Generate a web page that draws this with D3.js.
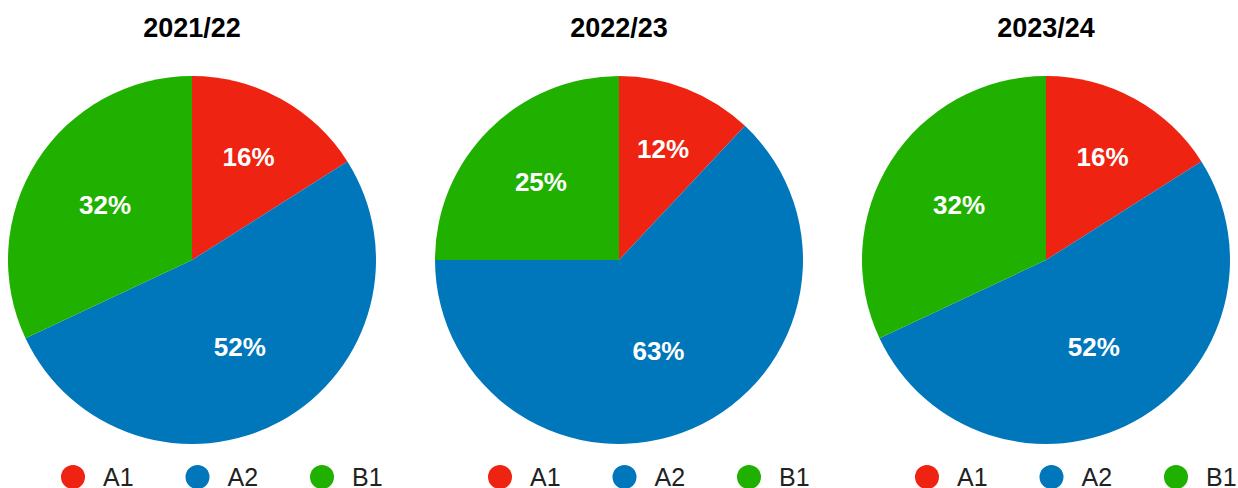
<!DOCTYPE html>
<html>
<head>
<meta charset="utf-8">
<script src="https://cdn.jsdelivr.net/npm/d3@7"></script>
<style>
  body { margin: 0; background: #fff; }
  svg { display: block; font-family: "Liberation Sans", Arial, Helvetica, sans-serif; }
</style>
</head>
<body>
<script>
// Data
const categories = ['A1', 'A2', 'B1'];
const years = ['2021/22', '2022/23', '2023/24'];
const values2122 = [16, 52, 32];
const values2223 = [12, 63, 25];
const values2324 = [16, 52, 32];
const seriesValues = [values2122, values2223, values2324];
const colors = ['#ee2311', '#0077bb', '#1fb000'];

const width = 1238, height = 488;
const radius = 184;
const centersX = [192, 619, 1046];
const centerY = 260;

const svg = d3.select('body')
    .append('svg')
    .attr('width', width)
    .attr('height', height);

const color = d3.scaleOrdinal().domain(categories).range(colors);
const pie = d3.pie().sort(null).value(d => d.value);
const arc = d3.arc().innerRadius(0).outerRadius(radius);

years.forEach((year, i) => {
    const data = categories.map((c, j) => ({ cat: c, value: seriesValues[i][j] }));
    const total = d3.sum(data, d => d.value);

    const g = svg.append('g')
        .attr('transform', `translate(${centersX[i]}, ${centerY})`);

    // title
    g.append('text')
        .attr('x', 0)
        .attr('y', 37 - centerY)
        .attr('text-anchor', 'middle')
        .attr('font-size', 27)
        .attr('font-weight', 'bold')
        .attr('fill', '#000')
        .text(year);

    const arcs = pie(data);

    g.selectAll('.slice')
        .data(arcs)
        .enter()
        .append('path')
        .attr('class', 'slice')
        .attr('d', arc)
        .attr('fill', d => color(d.data.cat));

    // labels sit at the sector centroid, but never closer than ~0.54r
    g.selectAll('.label')
        .data(arcs)
        .enter()
        .append('text')
        .attr('class', 'label')
        .attr('transform', d => {
            const half = (d.endAngle - d.startAngle) / 2;
            const mid = d.startAngle + half;
            const cd = 2 * radius * Math.sin(half) / (3 * half);
            const dist = Math.max(cd, radius * 0.54);
            return `translate(${dist * Math.sin(mid)}, ${-dist * Math.cos(mid)})`;
        })
        .attr('dy', '0.35em')
        .attr('text-anchor', 'middle')
        .attr('font-size', 26)
        .attr('font-weight', 'bold')
        .attr('fill', '#fff')
        .text(d => Math.round(d.data.value / total * 100) + '%');

    // legend
    const legendX = d3.scalePoint().domain(categories).range([-119, 130]);
    const legend = g.selectAll('.legend')
        .data(categories)
        .enter()
        .append('g')
        .attr('class', 'legend')
        .attr('transform', d => `translate(${legendX(d)}, ${477 - centerY})`);

    legend.append('circle')
        .attr('r', 12)
        .attr('fill', d => color(d));

    legend.append('text')
        .attr('x', 30)
        .attr('y', 9)
        .attr('font-size', 25)
        .attr('fill', '#222')
        .text(d => d);
});
</script>
</body>
</html>
